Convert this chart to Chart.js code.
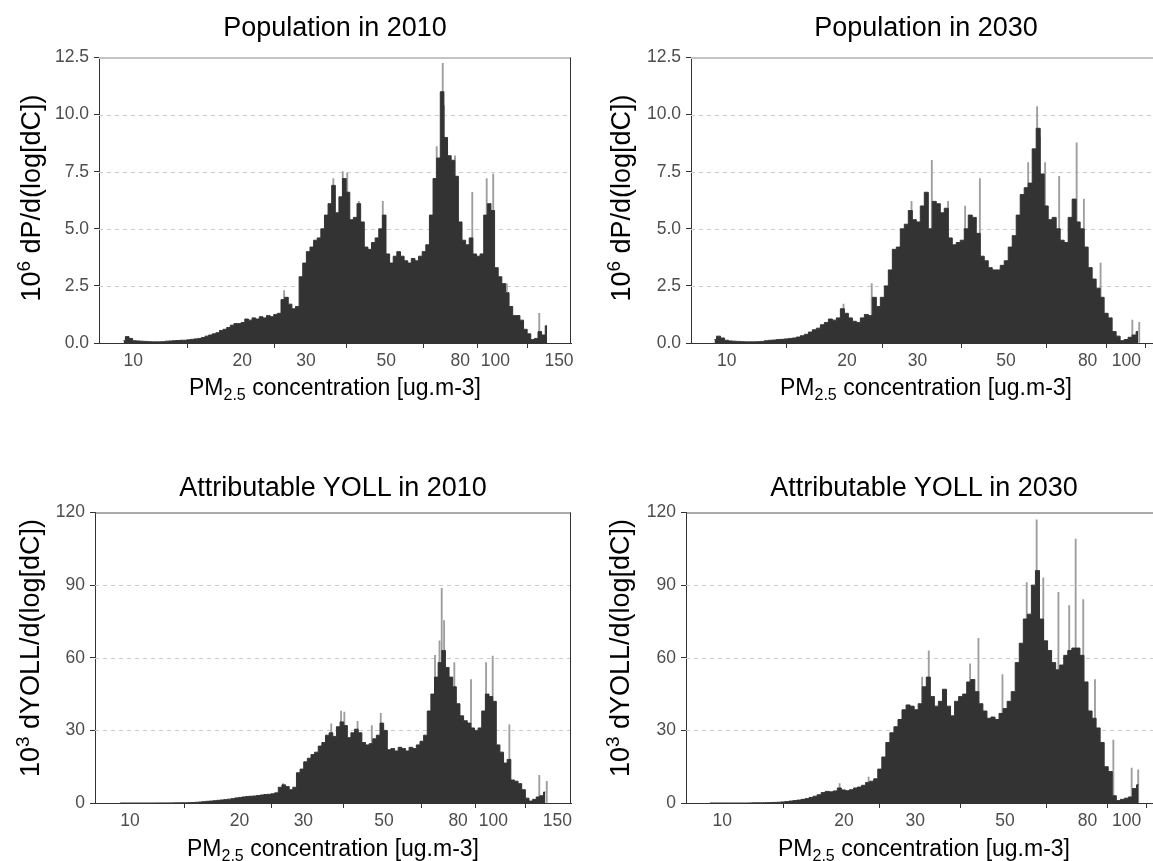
<!DOCTYPE html>
<html>
<head>
<meta charset="utf-8">
<script src="https://cdn.jsdelivr.net/npm/chart.js@4.4.1/dist/chart.umd.min.js"></script>
<style>
  html, body { margin: 0; padding: 0; background: #fff; overflow: hidden; width: 1153px; height: 861px; }
  body { position: relative; font-family: "Liberation Sans", Arial, sans-serif; }
  canvas { position: absolute; }
  .lbl { position: absolute; white-space: nowrap; color: #000; transform: translate(-50%, -50%); }
  .title { font-size: 27px; }
  .axis { font-size: 23px; }
  .ylab { font-size: 27px; transform: translate(-50%, -50%) rotate(-90deg); }
  sup, sub { font-size: 16px; line-height: 0; }
  .ylab sup { font-size: 19px; }
</style>
</head>
<body>
<canvas id="pop2010"></canvas>
<canvas id="pop2030"></canvas>
<canvas id="yoll2010"></canvas>
<canvas id="yoll2030"></canvas>

<div class="lbl title" style="left:335px; top:27px;">Population in 2010</div>
<div class="lbl title" style="left:926px; top:27px;">Population in 2030</div>
<div class="lbl title" style="left:333px; top:487px;">Attributable YOLL in 2010</div>
<div class="lbl title" style="left:924px; top:487px;">Attributable YOLL in 2030</div>

<div class="lbl axis" style="left:335px; top:387px;">PM<sub>2.5</sub> concentration [ug.m-3]</div>
<div class="lbl axis" style="left:926px; top:387px;">PM<sub>2.5</sub> concentration [ug.m-3]</div>
<div class="lbl axis" style="left:333px; top:848px;">PM<sub>2.5</sub> concentration [ug.m-3]</div>
<div class="lbl axis" style="left:924px; top:848px;">PM<sub>2.5</sub> concentration [ug.m-3]</div>

<div class="lbl ylab" style="left:31px; top:198px;">10<sup>6</sup> dP/d(log[dC])</div>
<div class="lbl ylab" style="left:621px; top:198px;">10<sup>6</sup> dP/d(log[dC])</div>
<div class="lbl ylab" style="left:30px; top:648px;">10<sup>3</sup> dYOLL/d(log[dC])</div>
<div class="lbl ylab" style="left:620px; top:648px;">10<sup>3</sup> dYOLL/d(log[dC])</div>

<script>
// histogram bins: log-spaced, 100 bins per decade, first bin centre given per panel
const binsPerDecade = 100;
const start2010 = 9.40;
const start2030 = 9.32;

// 10^6 dP/d(log[dC])
const pop2010 = [
  0.1, 0.28, 0.2, 0.1, 0.09, 0.08, 0.07, 0.06, 0.05, 0.05,
  0.05, 0.06, 0.08, 0.09, 0.1, 0.11, 0.12, 0.12, 0.14, 0.16,
  0.18, 0.2, 0.24, 0.3, 0.35, 0.4, 0.45, 0.55, 0.6, 0.68,
  0.78, 0.85, 0.85, 0.9, 1.05, 1.0, 1.1, 1.05, 1.15, 1.1,
  1.2, 1.15, 1.25, 1.3, 1.9, 2.0, 1.7, 1.5, 1.6, 2.9,
  3.5, 4.0, 4.2, 4.5, 4.6, 5.0, 5.6, 6.1, 6.9, 5.7,
  6.4, 7.2, 6.6, 5.4, 5.5, 6.1, 5.3, 4.2, 4.1, 4.4,
  4.6, 5.0, 5.6, 3.9, 3.5, 3.8, 4.0, 3.8, 3.6, 3.5,
  3.7, 3.6, 3.8, 4.0, 4.3, 5.6, 7.2, 8.1, 11.0, 9.0,
  8.2, 8.0, 7.3, 5.3, 4.5, 4.3, 4.6, 3.9, 3.8, 3.9,
  5.6, 6.1, 5.8, 3.3, 2.9, 2.6, 2.2, 1.6, 1.2, 1.2,
  1.0, 0.6, 0.4, 0.15, 0.2, 0.5, 0.35, 0.75
];
const pop2030 = [
  0.15, 0.3, 0.22, 0.12, 0.09, 0.08, 0.07, 0.06, 0.05, 0.05,
  0.05, 0.06, 0.07, 0.1, 0.12, 0.13, 0.15, 0.16, 0.18, 0.2,
  0.22, 0.26, 0.32, 0.38, 0.48, 0.58, 0.65, 0.8, 0.9, 1.05,
  1.0, 1.1, 1.5, 1.3, 1.1, 0.95, 0.9, 1.1, 1.25, 1.2,
  2.0, 1.6, 2.0, 2.5, 3.2, 4.1, 4.2, 5.0, 5.2, 5.8,
  5.4, 5.3, 6.0, 6.6, 5.0, 6.2, 6.1, 5.7, 5.9, 4.6,
  4.3, 4.4, 4.5, 5.0, 5.6, 5.5, 4.8, 3.8, 3.6, 3.3,
  3.2, 3.2, 3.4, 3.6, 4.2, 4.7, 5.6, 6.5, 6.8, 7.0,
  8.5, 9.4, 7.4, 6.0, 5.4, 5.5, 5.0, 4.5, 4.4, 5.5,
  6.3, 5.3, 5.0, 4.2, 3.3, 2.8, 2.4, 2.0, 1.3, 1.1,
  0.5, 0.3, 0.1, 0.15, 0.25, 0.35, 0.5
];

// 10^3 dYOLL/d(log[dC])
const yoll2010 = [
  0, 0, 0, 0, 0, 0, 0, 0, 0, 0,
  0.02, 0.03, 0.03, 0.04, 0.05, 0.06, 0.08, 0.1, 0.1, 0.15,
  0.2, 0.3, 0.4, 0.55, 0.7, 0.8, 0.95, 1.1, 1.25, 1.4,
  1.6, 1.8, 2.1, 2.3, 2.5, 2.7, 2.8, 2.9, 3.1, 3.3,
  3.5, 3.6, 3.8, 4.2, 6.5, 7.5, 6.8, 5.5, 6.5, 12.5,
  14.0, 17.0, 18.5, 20.0, 21.0, 23.5, 25.0, 28.0, 29.0, 27.5,
  31.5, 33.5, 32.0, 27.0, 29.0, 30.5, 29.0, 25.0, 24.0, 24.5,
  26.5, 28.0, 33.0, 30.0, 22.0, 22.5, 21.5, 23.0, 22.5, 21.5,
  23.0, 22.5, 24.0, 25.5, 28.0, 38.0, 45.0, 52.0, 58.0, 63.0,
  56.0, 52.0, 48.0, 41.0, 36.0, 34.0, 33.0, 31.0, 30.0, 31.0,
  38.0, 45.0, 44.0, 42.0, 24.0, 21.0, 16.5, 18.0, 9.5, 9.0,
  8.0, 5.5, 2.0, 0.8, 1.5, 2.5, 3.0, 4.5
];
const yoll2030 = [
  0, 0, 0, 0, 0, 0, 0, 0, 0, 0,
  0.05, 0.1, 0.1, 0.1, 0.15, 0.2, 0.25, 0.3, 0.45, 0.6,
  0.8, 1.0, 1.2, 1.5, 1.8, 2.3, 2.8, 3.4, 4.3, 4.8,
  4.6, 5.0, 6.2, 5.4, 5.1, 5.5, 6.2, 6.6, 7.3, 8.5,
  9.0, 10.0, 14.0, 19.0, 25.0, 29.0, 31.5, 34.5, 38.5, 40.5,
  40.0, 38.5, 41.0, 48.0, 52.0, 44.0, 40.0, 42.0, 47.0, 40.0,
  36.0, 42.0, 44.0, 45.0, 50.0, 51.0, 46.0, 41.0, 38.0, 35.0,
  35.5, 34.5, 37.0, 39.0, 42.0, 46.0, 58.0, 66.0, 76.0, 78.0,
  90.0, 96.0, 76.0, 67.0, 63.0, 58.0, 55.0, 57.0, 61.0, 63.0,
  64.0, 64.0, 61.0, 50.0, 38.0, 35.0, 31.0, 25.0, 15.0, 13.0,
  3.0, 1.0, 1.5, 2.0, 2.5, 6.0, 7.5
];

// single thin bins that stick out above the rest (concentration, height)
const spikeC2010 = [26.1, 35.7, 37.9, 39.0, 42.0, 48.9, 68.9, 71.6, 72.2, 73.4, 77.4, 86.4, 94.7, 98.7, 107.6, 132.3];
const popSpike2010 = [2.3, 7.2, 7.5, 7.45, 6.2, 6.2, 8.6, 12.25, 10.4, 8.8, 8.2, 6.6, 7.2, 7.4, 2.6, 1.3];
const spikeC2030 = [19.6, 23.06, 29.0, 32.6, 35.8, 39.5, 43.0, 56.8, 59.8, 60.8, 62.6, 67.9, 75.1, 78.3, 86.2, 103.5, 107.7];
const popSpike2030 = [1.7, 2.6, 6.2, 8.0, 6.2, 6.0, 7.2, 7.9, 10.35, 9.0, 7.9, 7.3, 8.76, 6.3, 3.5, 1.0, 0.9];
const yollSpikeC2010 = [26.4, 35.8, 38.1, 38.9, 42.3, 46.3, 49.0, 69.1, 71.1, 72.1, 73.2, 78.1, 86.8, 95.5, 99.6, 110.7, 133.8, 140.3];
const yollSpike2010 = [8, 32.7, 38, 37.6, 33.7, 32, 37, 61, 67, 88.7, 75.4, 58, 51, 58, 60.7, 32.3, 11.4, 9];
const yollSpikeC2030 = [19.5, 23.0, 31.2, 32.4, 41.0, 43.0, 49.3, 56.6, 59.9, 62.2, 67.8, 72.1, 74.8, 78.1, 83.5, 92.7, 102.9, 106.8];
const yollSpike2030 = [8, 10.7, 52, 62.9, 57.5, 68, 53, 91, 117, 93, 87, 81.6, 109, 84, 51, 26, 14.4, 13.7];

const xTicks2010 = [10, 20, 30, 50, 80, 100, 150];
const xTicks2030 = [10, 20, 30, 50, 80, 100];
const popTicks = [0, 2.5, 5, 7.5, 10, 12.5];
const yollTicks = [0, 30, 60, 90, 120];

const fontFamily = '"Liberation Sans", Arial, sans-serif';

function binCentres(first, n) {
  const out = [];
  for (let i = 0; i < n; i++) out.push(first * Math.pow(10, i / binsPerDecade));
  return out;
}

// dashed horizontal grid under the bars, frame on top
const framePlugin = {
  id: 'frame',
  beforeDatasetsDraw(chart, args, opts) {
    const { ctx, chartArea: a, scales: { y } } = chart;
    ctx.save();
    ctx.strokeStyle = '#cccccc';
    ctx.lineWidth = 1;
    ctx.setLineDash([4, 4]);
    opts.yTicks.slice(1, -1).forEach(v => {
      const py = Math.round(y.getPixelForValue(v)) + 0.5;
      ctx.beginPath();
      ctx.moveTo(a.left, py);
      ctx.lineTo(a.right, py);
      ctx.stroke();
    });
    ctx.restore();
  },
  afterDraw(chart, args, opts) {
    const { ctx, chartArea: a } = chart;
    ctx.save();
    ctx.strokeStyle = opts.topColor;
    ctx.lineWidth = opts.topWidth;
    ctx.beginPath();
    ctx.moveTo(a.left, a.top + 0.5);
    ctx.lineTo(a.right, a.top + 0.5);
    ctx.stroke();
    ctx.strokeStyle = '#333333';
    ctx.lineWidth = 1;
    ctx.beginPath();
    ctx.moveTo(a.right - 0.5, a.top);
    ctx.lineTo(a.right - 0.5, a.bottom);
    ctx.stroke();
    ctx.restore();
  }
};

function drawPanel(id, box, xMin, xMax, xTicks, yTicks, yDigits, first, values, spikeX, spikeY, topColor, topWidth) {
  const padL = 70, padT = 12, padR = 12, padB = 40;
  const canvas = document.getElementById(id);
  canvas.width = box.w + padL + padR;
  canvas.height = box.h + padT + padB;
  canvas.style.left = (box.x - padL) + 'px';
  canvas.style.top = (box.y - padT) + 'px';
  const centres = binCentres(first, values.length);

  new Chart(canvas, {
    type: 'bar',
    data: {
      datasets: [{
        // the histogram body: a stepped outline filled down to zero
        type: 'line',
        data: values.map((v, i) => ({ x: centres[i], y: v })),
        stepped: 'middle',
        fill: 'origin',
        backgroundColor: '#333333',
        borderColor: '#333333',
        borderWidth: 1,
        pointRadius: 0,
        order: 1
      }, {
        type: 'bar',
        data: spikeX.map((c, i) => ({ x: c, y: spikeY[i] })),
        backgroundColor: '#9e9e9e',
        borderWidth: 0,
        barThickness: 1.2,
        grouped: false,
        order: 2
      }]
    },
    options: {
      responsive: false,
      animation: false,
      events: [],
      layout: { padding: { left: 0, top: padT, right: padR, bottom: 0 } },
      plugins: {
        legend: { display: false },
        tooltip: { enabled: false },
        frame: { yTicks: yTicks, topColor: topColor, topWidth: topWidth }
      },
      scales: {
        x: {
          type: 'logarithmic',
          min: xMin,
          max: xMax,
          z: 1,
          afterBuildTicks: s => { s.ticks = xTicks.map(v => ({ value: v })); },
          afterFit: s => { s.height = padB; },
          ticks: {
            autoSkip: false, maxRotation: 0, padding: 3,
            color: '#4d4d4d', font: { family: fontFamily, size: 17.5 },
            callback: v => String(v)
          },
          grid: { drawOnChartArea: false, drawTicks: true, tickLength: 5, tickColor: '#333333', tickWidth: 1 },
          border: { display: true, color: '#333333', width: 1 }
        },
        y: {
          min: 0,
          max: yTicks[yTicks.length - 1],
          z: 1,
          afterBuildTicks: s => { s.ticks = yTicks.map(v => ({ value: v })); },
          afterFit: s => { s.width = padL; },
          ticks: {
            padding: 5,
            color: '#4d4d4d', font: { family: fontFamily, size: 17.5 },
            callback: v => Number(v).toFixed(yDigits)
          },
          grid: { drawOnChartArea: false, drawTicks: true, tickLength: 5, tickColor: '#333333', tickWidth: 1 },
          border: { display: true, color: '#333333', width: 1 }
        }
      }
    },
    plugins: [framePlugin]
  });
}

drawPanel('pop2010', { x: 99, y: 54, w: 472, h: 289 }, 8.04, 161.9, xTicks2010, popTicks, 1,
  start2010, pop2010, spikeC2010, popSpike2010, '#c4c4c4', 2);
drawPanel('pop2030', { x: 691, y: 54, w: 471, h: 289 }, 8.14, 122.8, xTicks2030, popTicks, 1,
  start2030, pop2030, spikeC2030, popSpike2030, '#c4c4c4', 2);
drawPanel('yoll2010', { x: 95, y: 509, w: 476, h: 294 }, 8.01, 163.6, xTicks2010, yollTicks, 0,
  start2010, yoll2010, yollSpikeC2010, yollSpike2010, '#555555', 1);
drawPanel('yoll2030', { x: 686, y: 509, w: 476, h: 294 }, 8.13, 122.3, xTicks2030, yollTicks, 0,
  start2030, yoll2030, yollSpikeC2030, yollSpike2030, '#555555', 1);
</script>
</body>
</html>
